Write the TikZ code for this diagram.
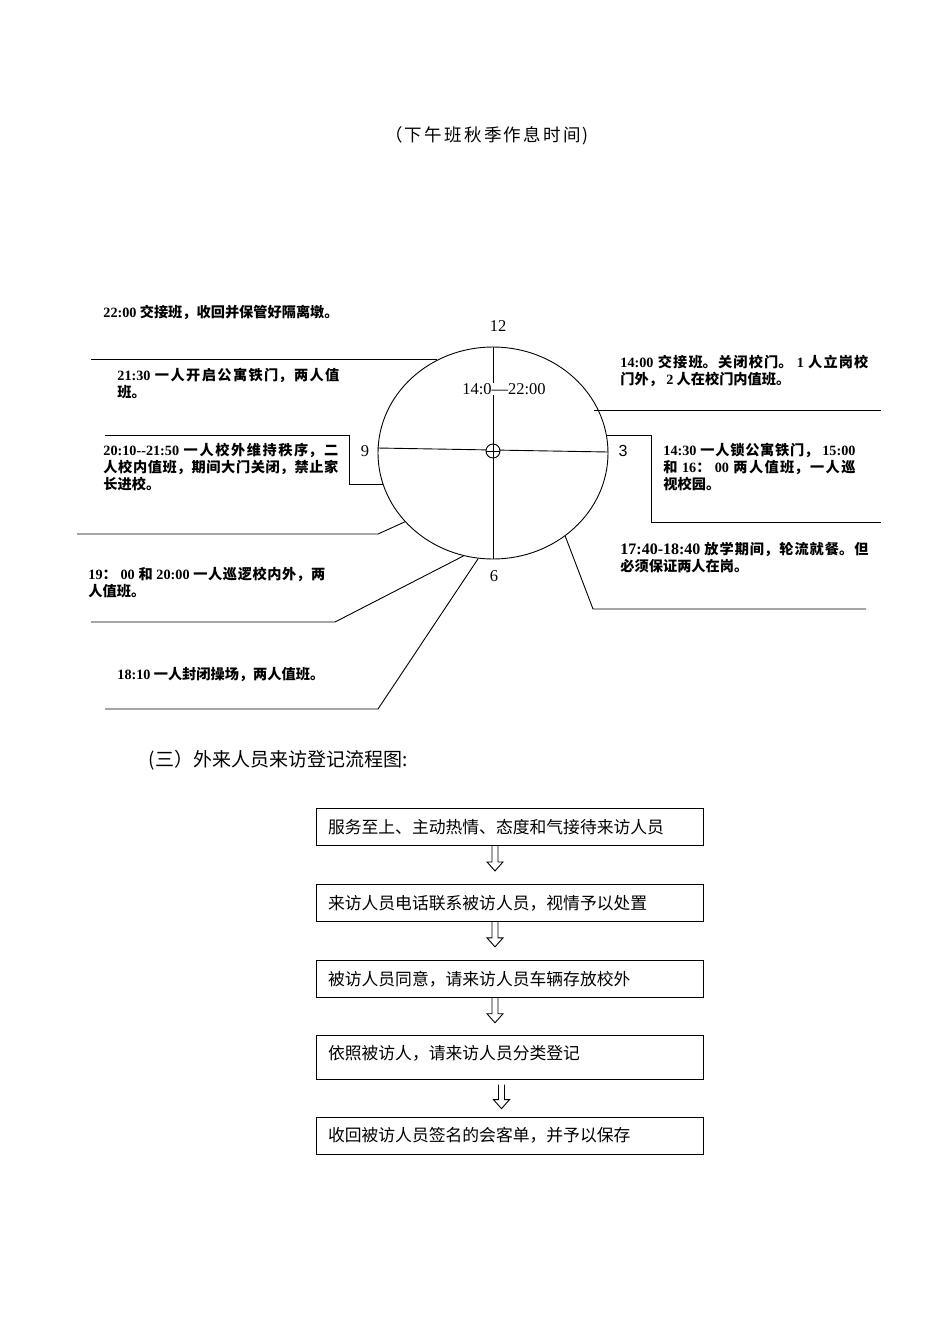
\documentclass[tikz,border=0pt]{standalone}
\usepackage{fontspec}
\setmainfont{Noto Sans CJK SC}
\newfontfamily\tnr{Liberation Serif}
\newfontfamily\arl{Liberation Sans}
\usetikzlibrary{shapes.geometric,positioning}
\XeTeXlinebreaklocale "zh"
\XeTeXlinebreakskip=0pt plus 2pt
\tolerance=9000

% hollow down arrow between two boxes
\newcommand{\hollowdown}[2]{%
  \draw (#1) ++(-3,0) -- ++(0,#2) -- ++(-5,0) -- ++(8,9) -- ++(8,-9) -- ++(-5,0) -- ++(0,-#2);}

\tikzset{
  note/.style={font=\bfseries\fontsize{14.2}{17}\selectfont, inner sep=0pt, anchor=north west, align=justify},
  dial/.style={font=\tnr\fontsize{16.5}{18}\selectfont, inner sep=0pt},
  step box/.style={draw, text width=363pt, inner xsep=12pt, inner ysep=0pt, minimum height=37pt,
    align=left, font=\fontsize{16.8}{20}\selectfont},
}

\begin{document}
\begin{tikzpicture}[x=1pt, y=-1pt, line width=0.9pt]
\useasboundingbox (0,0) rectangle (950,1344);

% Title
\node (title) at (487,136) {\fontsize{17.5}{20}\selectfont\addfontfeature{LetterSpace=13}（下午班秋季作息时间)};

% Clock
\node[draw, ellipse, minimum width=230pt, minimum height=212pt, inner sep=0pt] (clock) at (493,453) {};
\draw (clock.north) -- (clock.south);
\draw ([yshift=5pt]clock.west) -- ([yshift=1pt]clock.east);
\node[draw, circle, minimum size=14pt, inner sep=0pt, fill=white] (hub) at (493,451) {};
\draw (hub.north) -- (hub.south);
\draw (hub.west) -- (hub.east);
\node[dial] (n12) at (498,326) {12};
\node[dial] (n6) at (494,576) {6};
\node[dial] (n9) at (365,451) {9};
\node[dial, font=\arl\fontsize{16}{18}\selectfont] (n3) at (623,451) {3};
\node[dial, fill=white, inner xsep=1pt] (span) at (504,389) {14:0—22:00};

% Left side
\node[note, text width=250pt] (t2200) at (103,305) {{\tnr 22:00} 交接班，收回并保管好隔离墩。};
\coordinate (e1) at (91,0);
\draw (clock.121) -- (clock.121 -| e1);

\node[note, text width=222pt] (t2130) at (117,368) {{\tnr 21:30} 一人开启公寓铁门，两人值\linebreak 班。};

\coordinate (k9) at (349,435);
\coordinate (e9) at (105,0);
\draw (clock.196) -| (k9) -- (k9 -| e9);
\node[note, text width=235pt] (t2010) at (103,443) {{\tnr 20:10-{}-21:50} 一人校外维持秩序，二\linebreak 人校内值班，期间大门关闭，禁止家\linebreak 长进校。};

\coordinate (k8) at (378,534);
\coordinate (e8) at (77,0);
\draw (clock.218) -- (k8) -- (k8 -| e8);

\node[note, text width=237pt] (t1900) at (88,567) {{\tnr 19}： {\tnr 00} 和 {\tnr 20:00} 一人巡逻校内外，两\linebreak 人值班。};
\coordinate (k7) at (335,622);
\coordinate (e7) at (91,0);
\draw (clock.254) -- (k7) -- (k7 -| e7);

\node[note, text width=250pt] (t1810) at (117,667) {{\tnr 18:10} 一人封闭操场，两人值班。};
\coordinate (k6) at (378,709);
\coordinate (e6) at (105,0);
\draw (clock.262) -- (k6) -- (k6 -| e6);

% Right side
\node[note, text width=248pt] (t1400) at (620,355) {{\tnr 14:00} 交接班。关闭校门。 {\tnr 1} 人立岗校\linebreak 门外， {\tnr 2} 人在校门内值班。};
\coordinate (e2) at (881,0);
\draw ([xshift=-5pt]clock.22) -- (clock.22 -| e2);

\coordinate (k3) at (651,522);
\coordinate (e3) at (881,0);
\draw (clock.9) -| (k3) -- (k3 -| e3);
\node[note, text width=192pt] (t1430) at (663,443) {{\tnr 14:30} 一人锁公寓铁门， {\tnr 15:00}\linebreak 和 {\tnr 16}： {\tnr 00} 两人值班，一人巡\linebreak 视校园。};

\node[note, text width=248pt] (t1740) at (620,542) {{\tnr\fontsize{16}{17}\selectfont 17:40-18:40} 放学期间，轮流就餐。但\linebreak 必须保证两人在岗。};
\coordinate (k4) at (593,609);
\coordinate (e4) at (866,0);
\draw (clock.311) -- (k4) -- (k4 -| e4);

% Visitor flow
\node[anchor=west, font=\fontsize{19}{21}\selectfont] (head3) at (145,760) {(三）外来人员来访登记流程图:};

\node[step box] (b1) at (509.5,827) {服务至上、主动热情、态度和气接待来访人员};
\node[step box, below=38pt of b1] (b2) {来访人员电话联系被访人员，视情予以处置};
\node[step box, below=38pt of b2] (b3) {被访人员同意，请来访人员车辆存放校外};
\node[step box, below=37pt of b3, minimum height=44pt, text depth=10pt] (b4) {依照被访人，请来访人员分类登记};
\node[step box, below=37pt of b4] (b5) {收回被访人员签名的会客单，并予以保存};

\hollowdown{[xshift=-14.5pt]b1.south}{16}
\hollowdown{[xshift=-14.5pt]b2.south}{16}
\hollowdown{[xshift=-14.5pt]b3.south}{16}
\hollowdown{[xshift=-8pt,yshift=-5pt]b4.south}{15}
\end{tikzpicture}
\end{document}
